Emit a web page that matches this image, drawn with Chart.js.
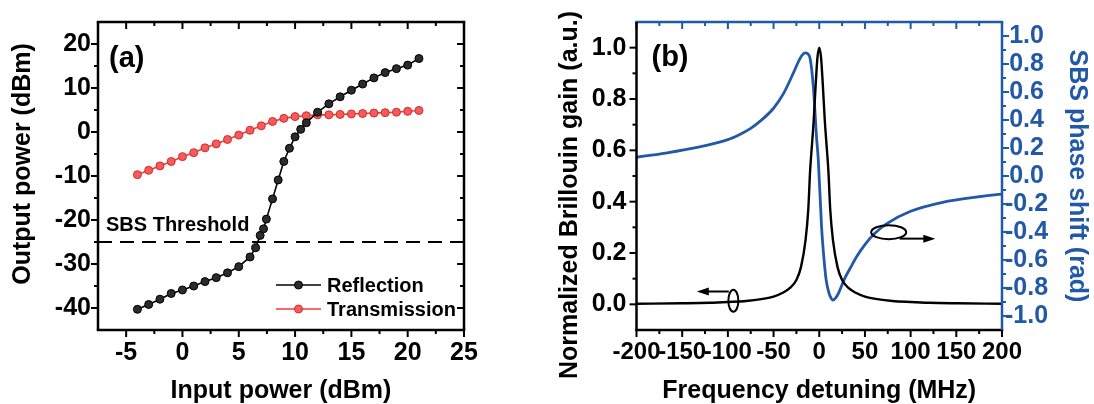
<!DOCTYPE html>
<html lang="en">
<head>
<meta charset="UTF-8">
<script src="https://cdn.jsdelivr.net/npm/chart.js"></script>
<style>
  body { margin: 0; background: #fff; }
  .panel { position: absolute; top: 0; height: 404px; }
  #boxA { left: 0; width: 540px; }
  #boxB { left: 540px; width: 554px; }
</style>
</head>
<body>
<div class="panel" id="boxA"><canvas id="chartA" width="540" height="404"></canvas></div>
<div class="panel" id="boxB"><canvas id="chartB" width="554" height="404"></canvas></div>
<script>
// ---- panel (a): output power vs input power
const reflX = [-4, -3, -2, -1, 0, 1, 2, 3, 4, 5, 6, 6.5, 6.9, 7.2, 7.45, 8, 8.5, 9, 9.5, 10, 10.5, 11, 12, 13, 14, 15, 16, 17, 18, 19, 20, 21];
const reflY = [-40.3, -39.2, -38.0, -36.7, -35.9, -35.0, -34.0, -33.1, -32.0, -30.6, -28.4, -26.3, -23.5, -22.0, -19.8, -15.2, -10.9, -6.7, -3.7, -1.1, 0.6, 2.1, 4.5, 6.4, 8.0, 9.5, 10.9, 12.3, 13.5, 14.4, 15.2, 16.7];
const transX = [-4, -3, -2, -1, 0, 1, 2, 3, 4, 5, 6, 7, 8, 9, 10, 11, 12, 13, 14, 15, 16, 17, 18, 19, 20, 21];
const transY = [-9.7, -8.7, -7.7, -6.7, -5.6, -4.7, -3.6, -2.7, -1.7, -0.7, 0.4, 1.4, 2.4, 3.1, 3.5, 3.7, 3.9, 3.9, 4.0, 4.1, 4.2, 4.3, 4.4, 4.5, 4.7, 4.9];
const thresholdDbm = -25;
const xRangeA = [-7.5, 25];
const yRangeA = [-45, 25];
const xTicksA = [-5, 0, 5, 10, 15, 20, 25];
const yTicksA = [-40, -30, -20, -10, 0, 10, 20];

// ---- panel (b): gain and phase vs detuning
const gainX = [-200, -150, -120, -100, -80, -60, -50, -40, -32, -25, -20, -15, -12, -10, -8, -6, -4, -2, 0, 2, 4, 6, 8, 10, 12, 15, 20, 25, 32, 40, 50, 60, 80, 100, 120, 150, 200];
const gainY = [0.002, 0.004, 0.006, 0.009, 0.013, 0.022, 0.030, 0.045, 0.064, 0.095, 0.145, 0.25, 0.37, 0.52, 0.62, 0.72, 0.85, 0.96, 1.0, 0.96, 0.85, 0.72, 0.62, 0.52, 0.37, 0.25, 0.145, 0.095, 0.064, 0.045, 0.030, 0.022, 0.013, 0.009, 0.006, 0.004, 0.002];
const phaseX = [-200, -170, -135, -100, -87, -75, -65, -50, -39, -28, -21, -17, -15, -13, -10, -6.5, -3, -1, 2.5, 5, 7.5, 10, 12, 15, 18, 21, 28, 35, 41, 50, 60, 74, 100, 135, 175, 200];
const phaseY = [0.134, 0.162, 0.202, 0.26, 0.297, 0.34, 0.39, 0.484, 0.59, 0.74, 0.84, 0.875, 0.88, 0.875, 0.84, 0.64, 0.28, 0.11, -0.36, -0.58, -0.74, -0.82, -0.86, -0.886, -0.87, -0.838, -0.73, -0.645, -0.575, -0.49, -0.415, -0.34, -0.252, -0.188, -0.148, -0.129];
const xTicksB = [-200, -150, -100, -50, 0, 50, 100, 150, 200];
const yTicksB = [0, 0.2, 0.4, 0.6, 0.8, 1.0];
const y2TicksB = [-1, -0.8, -0.6, -0.4, -0.2, 0, 0.2, 0.4, 0.6, 0.8, 1.0];

const FONT = "'Liberation Sans', Arial, sans-serif";
const BLUE = '#2158a8';
Chart.defaults.font.family = FONT;
Chart.defaults.font.weight = 'bold';
Chart.defaults.color = '#000';

const pts = (xs, ys) => xs.map((x, i) => ({ x, y: ys[i] }));
const mids = arr => arr.slice(1).map((v, i) => (v + arr[i]) / 2);
const setTicks = vals => scale => { scale.ticks = vals.map(v => ({ value: v })); };

// frame with major/minor ticks on all four sides
function makeFrame(sides) {
  return {
    id: 'frame',
    afterDraw(chart) {
      const { ctx, chartArea: a, scales } = chart;
      ctx.save();
      for (const s of sides) {
        const sc = scales[s.scale];
        ctx.strokeStyle = s.color;
        ctx.lineWidth = 2.5;
        ctx.beginPath();
        if (s.pos === 'bottom') { ctx.moveTo(a.left - 1.25, a.bottom); ctx.lineTo(a.right + 1.25, a.bottom); }
        if (s.pos === 'top') { ctx.moveTo(a.left - 1.25, a.top); ctx.lineTo(a.right + 1.25, a.top); }
        if (s.pos === 'left') { ctx.moveTo(a.left, a.top); ctx.lineTo(a.left, a.bottom); }
        if (s.pos === 'right') { ctx.moveTo(a.right, a.top); ctx.lineTo(a.right, a.bottom); }
        ctx.stroke();
        ctx.lineWidth = 2;
        const out = s.inward ? -1 : 1;
        const tick = (v, len) => {
          const p = sc.getPixelForValue(v);
          ctx.beginPath();
          if (s.pos === 'bottom') { ctx.moveTo(p, a.bottom); ctx.lineTo(p, a.bottom + out * len); }
          if (s.pos === 'top') { ctx.moveTo(p, a.top); ctx.lineTo(p, a.top - out * len); }
          if (s.pos === 'left') { ctx.moveTo(a.left, p); ctx.lineTo(a.left - out * len, p); }
          if (s.pos === 'right') { ctx.moveTo(a.right, p); ctx.lineTo(a.right + out * len, p); }
          ctx.stroke();
        };
        s.major.forEach(v => tick(v, 7));
        s.minor.forEach(v => tick(v, 4));
      }
      ctx.restore();
    }
  };
}

function makeDecor(draw) {
  return { id: 'decor', afterDraw(chart) { const ctx = chart.ctx; ctx.save(); draw(chart, ctx); ctx.restore(); } };
}

function arrow(ctx, x1, y, x2) {
  const dir = Math.sign(x2 - x1);
  ctx.beginPath();
  ctx.moveTo(x1, y);
  ctx.lineTo(x2 - dir * 8, y);
  ctx.stroke();
  ctx.beginPath();
  ctx.moveTo(x2, y);
  ctx.lineTo(x2 - dir * 12, y - 4);
  ctx.lineTo(x2 - dir * 12, y + 4);
  ctx.closePath();
  ctx.fill();
}

// rotated y-axis title, centred where the original puts it
function sideTitle(ctx, text, x, y) {
  ctx.save();
  ctx.translate(x, y);
  ctx.rotate(-Math.PI / 2);
  ctx.font = 'bold 25px ' + FONT;
  ctx.textAlign = 'center';
  ctx.textBaseline = 'middle';
  ctx.fillStyle = '#000';
  ctx.fillText(text, 0, 0);
  ctx.restore();
}

const tickFont = { size: 25 };
const titleFont = { size: 25, lineHeight: 1.2 };

// ---------- chart (a)
new Chart(document.getElementById('chartA'), {
  type: 'line',
  data: {
    datasets: [
      { label: 'Reflection', data: pts(reflX, reflY), borderColor: '#000', borderWidth: 1.6,
        pointRadius: 4, pointBackgroundColor: '#2b2b2b', pointBorderColor: '#000', pointBorderWidth: 1 },
      { label: 'Transmission', data: pts(transX, transY), borderColor: '#f03c3c', borderWidth: 1.6,
        pointRadius: 4, pointBackgroundColor: '#f45b5b', pointBorderColor: '#d92a2a', pointBorderWidth: 1 },
      { label: 'SBS Threshold', data: [{ x: xRangeA[0], y: thresholdDbm }, { x: xRangeA[1], y: thresholdDbm }],
        borderColor: '#000', borderWidth: 2.2, borderDash: [14, 8], pointRadius: 0 }
    ]
  },
  options: {
    responsive: false,
    animation: false,
    layout: { padding: { top: 22, right: 76, left: 0, bottom: 0 } },
    plugins: { legend: { display: false }, tooltip: { enabled: false } },
    scales: {
      x: {
        type: 'linear', min: xRangeA[0], max: xRangeA[1],
        afterBuildTicks: setTicks(xTicksA),
        afterFit: s => { s.height = 74; },
        grid: { display: false, drawTicks: true, tickLength: 7 },
        border: { display: false },
        ticks: { padding: 1, font: tickFont, maxRotation: 0, autoSkip: false },
        title: { display: true, text: 'Input power (dBm)', font: { size: 25, lineHeight: 1 }, padding: 0 }
      },
      y: {
        type: 'linear', min: yRangeA[0], max: yRangeA[1],
        afterBuildTicks: setTicks(yTicksA),
        afterFit: s => { s.width = 98; },
        grid: { display: false, drawTicks: true, tickLength: 7 },
        border: { display: false },
        ticks: { padding: 0, font: tickFont, autoSkip: false },
        title: { display: false }
      }
    }
  },
  plugins: [
    makeFrame([
      { pos: 'bottom', scale: 'x', color: '#000', major: xTicksA, minor: mids(xTicksA) },
      { pos: 'top', scale: 'x', color: '#000', major: xTicksA, minor: mids(xTicksA), inward: true },
      { pos: 'left', scale: 'y', color: '#000', major: yTicksA, minor: mids(yTicksA) },
      { pos: 'right', scale: 'y', color: '#000', major: yTicksA, minor: mids(yTicksA), inward: true }
    ]),
    makeDecor((chart, ctx) => {
      const a = chart.chartArea;
      sideTitle(ctx, 'Output power (dBm)', 23, 164);
      ctx.fillStyle = '#000';
      ctx.textBaseline = 'alphabetic';
      ctx.font = 'bold 29px ' + FONT;
      ctx.fillText('(a)', a.left + 11, 67);
      ctx.font = 'bold 20px ' + FONT;
      const yT = chart.scales.y.getPixelForValue(thresholdDbm);
      ctx.fillText('SBS Threshold', a.left + 8, yT - 11);
      // legend
      chart.data.datasets.slice(0, 2).forEach((ds, i) => {
        const y = a.bottom - 45 + i * 24;
        const x0 = a.right - 188;
        ctx.strokeStyle = ds.borderColor;
        ctx.lineWidth = 1.6;
        ctx.beginPath(); ctx.moveTo(x0, y); ctx.lineTo(x0 + 45, y); ctx.stroke();
        ctx.fillStyle = ds.pointBackgroundColor;
        ctx.strokeStyle = ds.pointBorderColor;
        ctx.lineWidth = 1;
        ctx.beginPath(); ctx.arc(x0 + 22.5, y, 4, 0, Math.PI * 2); ctx.fill(); ctx.stroke();
        ctx.fillStyle = '#000';
        ctx.textBaseline = 'middle';
        ctx.fillText(ds.label, x0 + 51, y + 1);
      });
    })
  ]
});

// ---------- chart (b)
new Chart(document.getElementById('chartB'), {
  type: 'line',
  data: {
    datasets: [
      { label: 'Normalized Brillouin gain', data: pts(gainX, gainY), yAxisID: 'y', borderColor: '#000',
        borderWidth: 2.4, pointRadius: 0, cubicInterpolationMode: 'monotone' },
      { label: 'SBS phase shift', data: pts(phaseX, phaseY), yAxisID: 'y2', borderColor: BLUE,
        borderWidth: 2.8, pointRadius: 0, cubicInterpolationMode: 'monotone' }
    ]
  },
  options: {
    responsive: false,
    animation: false,
    layout: { padding: { top: 22, right: 0, left: 0, bottom: 0 } },
    plugins: { legend: { display: false }, tooltip: { enabled: false } },
    scales: {
      x: {
        type: 'linear', min: -200, max: 200,
        afterBuildTicks: setTicks(xTicksB),
        afterFit: s => { s.height = 74; },
        grid: { display: false, drawTicks: true, tickLength: 7 },
        border: { display: false },
        ticks: { padding: 1, font: { size: 24 }, maxRotation: 0, autoSkip: false },
        title: { display: true, text: 'Frequency detuning (MHz)', font: { size: 25, lineHeight: 1 }, padding: 0 }
      },
      y: {
        type: 'linear', position: 'left', min: -0.1, max: 1.1,
        afterBuildTicks: setTicks(yTicksB),
        afterFit: s => { s.width = 96.5; },
        grid: { display: false, drawTicks: true, tickLength: 7 },
        border: { display: false },
        ticks: { padding: 3, font: tickFont, autoSkip: false, callback: v => v.toFixed(1) },
        title: { display: false }
      },
      y2: {
        type: 'linear', position: 'right', min: -1.1, max: 1.1,
        afterBuildTicks: setTicks(y2TicksB),
        afterFit: s => { s.width = 92; },
        grid: { display: false, drawTicks: true, tickLength: 3 },
        border: { display: false },
        ticks: { padding: 0, font: tickFont, color: BLUE, autoSkip: false, crossAlign: 'center', callback: v => v.toFixed(1) },
        title: { display: true, text: 'SBS phase shift (rad)', color: BLUE, font: titleFont, padding: { top: 2, bottom: 0 } }
      }
    }
  },
  plugins: [
    makeFrame([
      { pos: 'bottom', scale: 'x', color: '#000', major: xTicksB, minor: mids(xTicksB) },
      { pos: 'top', scale: 'x', color: BLUE, major: xTicksB, minor: mids(xTicksB), inward: true },
      { pos: 'left', scale: 'y', color: '#000', major: yTicksB, minor: mids(yTicksB) },
      { pos: 'right', scale: 'y2', color: BLUE, major: y2TicksB, minor: mids(y2TicksB) }
    ]),
    makeDecor((chart, ctx) => {
      const a = chart.chartArea, sx = chart.scales.x, sy = chart.scales.y;
      sideTitle(ctx, 'Normalized Brillouin gain (a.u.)', 30, 195);
      ctx.fillStyle = '#000';
      ctx.strokeStyle = '#000';
      ctx.textBaseline = 'alphabetic';
      ctx.font = 'bold 29px ' + FONT;
      ctx.fillText('(b)', a.left + 15, 66);
      ctx.lineWidth = 2;
      // left-pointing marker for the gain curve
      ctx.beginPath();
      ctx.ellipse(sx.getPixelForValue(-94), sy.getPixelForValue(0.014), 5, 11, 0, 0, Math.PI * 2);
      ctx.stroke();
      arrow(ctx, sx.getPixelForValue(-99), sy.getPixelForValue(0.05), sx.getPixelForValue(-134));
      // right-pointing marker for the phase curve
      ctx.beginPath();
      ctx.ellipse(sx.getPixelForValue(76), sy.getPixelForValue(0.281), 17.5, 7, 0, 0, Math.PI * 2);
      ctx.stroke();
      arrow(ctx, sx.getPixelForValue(88), sy.getPixelForValue(0.256), sx.getPixelForValue(127));
    })
  ]
});
</script>
</body>
</html>
